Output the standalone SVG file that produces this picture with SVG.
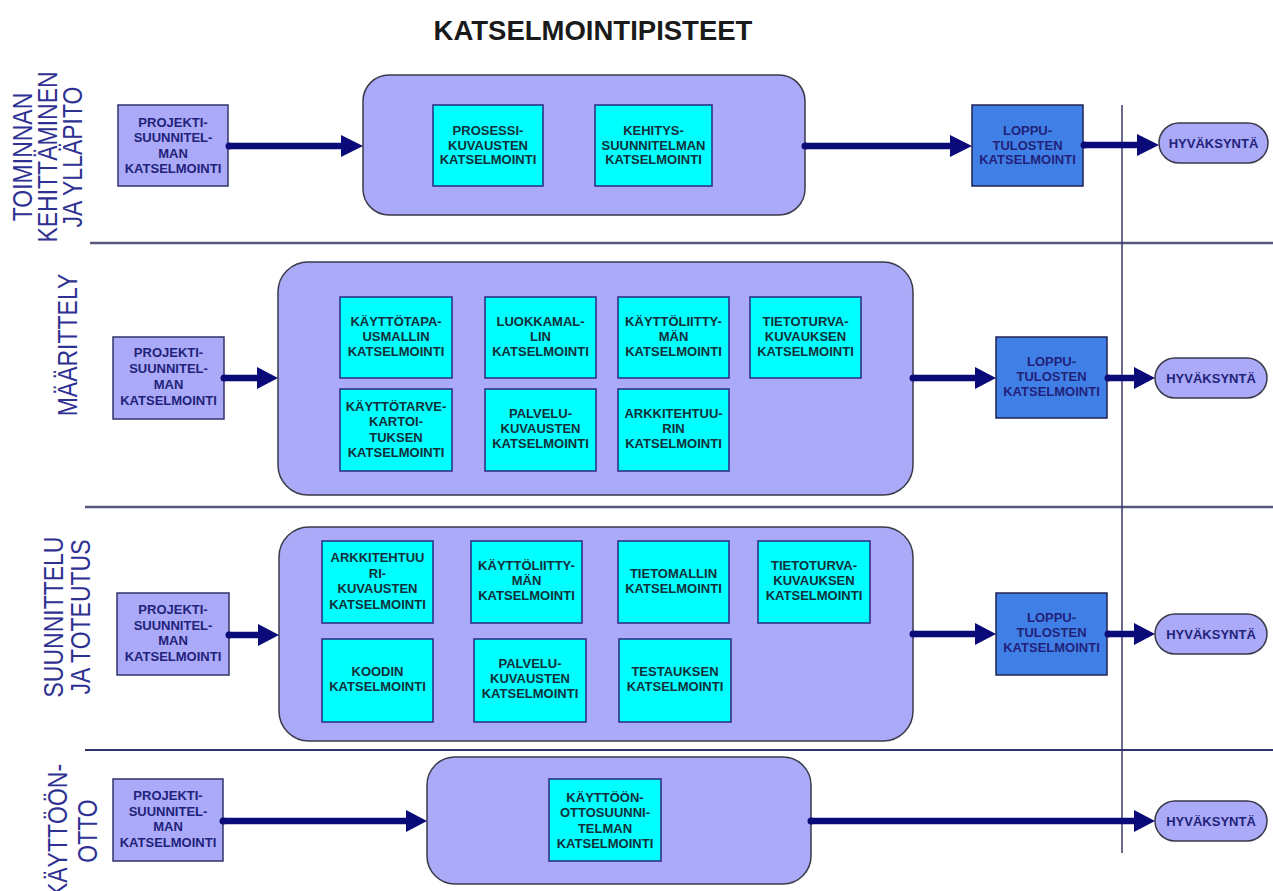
<svg xmlns="http://www.w3.org/2000/svg" width="1273" height="891" viewBox="0 0 1273 891">
<defs>
<style>
.bg{fill:#ffffff}
.title{font-family:"Liberation Sans",Arial,sans-serif;font-weight:bold;font-size:27.5px;fill:#1a1a1a;text-anchor:middle}
.lane{font-family:"Liberation Sans",Arial,sans-serif;font-size:23px;fill:#2e3192;text-anchor:middle}
.sep{stroke:#58587c;stroke-width:2.5;fill:none}
.sep2{stroke:#333370;stroke-width:2;fill:none}
.vline{stroke:#3a3a6e;stroke-width:1.5;fill:none}
.cont{fill:#aaaaf8;stroke:#3a3a4a;stroke-width:1.5}
.proj{fill:#aaaaf8;stroke:#33336a;stroke-width:1.5}
.cyan{fill:#00ffff;stroke:#2a2a80;stroke-width:1.5}
.loppu{fill:#4080e6;stroke:#222250;stroke-width:1.5}
.pill{fill:#aaaaf8;stroke:#3a3a4a;stroke-width:1.5}
.t{font-family:"Liberation Sans",Arial,sans-serif;font-weight:bold;font-size:13px;text-anchor:middle}
.tn{fill:#22227a}
.tc{fill:#10303a}
.shaft{stroke:#0a0a78;stroke-width:6.5;fill:none}
.head{fill:#0a0a78}
.dot{fill:#0a0a78}
</style>
</defs>
<rect class="bg" x="0" y="0" width="1273" height="891"/>
<text class="title" x="593" y="40">KATSELMOINTIPISTEET</text>

<g id="lanes">
<text class="lane" transform="translate(32,157) rotate(-90) scale(1,1.2)">TOIMINNAN</text>
<text class="lane" transform="translate(57,157) rotate(-90) scale(1,1.2)">KEHITTÄMINEN</text>
<text class="lane" transform="translate(82,157) rotate(-90) scale(1,1.2)">JA YLLÄPITO</text>
<text class="lane" transform="translate(77,345) rotate(-90) scale(1,1.2)">MÄÄRITTELY</text>
<text class="lane" transform="translate(63,617) rotate(-90) scale(1,1.2)">SUUNNITTELU</text>
<text class="lane" transform="translate(90,617) rotate(-90) scale(1,1.2)">JA TOTEUTUS</text>
<text class="lane" transform="translate(67,831) rotate(-90) scale(1,1.2)">KÄYTTÖÖN-</text>
<text class="lane" transform="translate(97,831) rotate(-90) scale(1,1.2)">OTTO</text>
<line class="sep" x1="90" y1="243" x2="1273" y2="243"/>
<line class="sep" x1="85" y1="507" x2="1273" y2="507"/>
<line class="sep2" x1="85" y1="750" x2="1273" y2="750"/>
<line class="vline" x1="1122" y1="105" x2="1122" y2="853"/>
</g>

<!-- Row 1 -->
<g id="r1-proj"><rect class="proj" x="118" y="105" width="110" height="81"/>
<text class="t tn" x="173" y="126.5"><tspan x="173">PROJEKTI-</tspan><tspan x="173" dy="15.5">SUUNNITEL-</tspan><tspan x="173" dy="15.5">MAN</tspan><tspan x="173" dy="15.5">KATSELMOINTI</tspan></text></g>
<g id="r1-cont"><rect class="cont" x="363" y="75" width="442" height="140" rx="26"/></g>
<g id="r1-prosessi"><rect class="cyan" x="433" y="105" width="110" height="81"/>
<text class="t tc" x="488" y="135"><tspan x="488">PROSESSI-</tspan><tspan x="488" dy="14.5">KUVAUSTEN</tspan><tspan x="488" dy="14.5">KATSELMOINTI</tspan></text></g>
<g id="r1-kehitys"><rect class="cyan" x="595" y="105" width="117" height="81"/>
<text class="t tc" x="653.5" y="135"><tspan x="653.5">KEHITYS-</tspan><tspan x="653.5" dy="14.5">SUUNNITELMAN</tspan><tspan x="653.5" dy="14.5">KATSELMOINTI</tspan></text></g>
<g id="r1-loppu"><rect class="loppu" x="972" y="105" width="111" height="81"/>
<text class="t tn" x="1027.5" y="135"><tspan x="1027.5">LOPPU-</tspan><tspan x="1027.5" dy="14.5">TULOSTEN</tspan><tspan x="1027.5" dy="14.5">KATSELMOINTI</tspan></text></g>
<g id="r1-hyv"><rect class="pill" x="1159" y="123" width="109" height="40" rx="20"/>
<text class="t tn" x="1213.5" y="147.5">HYVÄKSYNTÄ</text></g>

<!-- Row 2 -->
<g id="r2-proj"><rect class="proj" x="113" y="337" width="111" height="82"/>
<text class="t tn" x="168.5" y="357"><tspan x="168.5">PROJEKTI-</tspan><tspan x="168.5" dy="16">SUUNNITEL-</tspan><tspan x="168.5" dy="16">MAN</tspan><tspan x="168.5" dy="16">KATSELMOINTI</tspan></text></g>
<g id="r2-cont"><rect class="cont" x="278" y="262" width="635" height="233" rx="30"/></g>
<g id="r2-kayttotapa"><rect class="cyan" x="340" y="297" width="112" height="81"/>
<text class="t tc" x="396" y="326"><tspan x="396">KÄYTTÖTAPA-</tspan><tspan x="396" dy="15">USMALLIN</tspan><tspan x="396" dy="15">KATSELMOINTI</tspan></text></g>
<g id="r2-luokka"><rect class="cyan" x="485" y="297" width="111" height="81"/>
<text class="t tc" x="540.5" y="326"><tspan x="540.5">LUOKKAMAL-</tspan><tspan x="540.5" dy="15">LIN</tspan><tspan x="540.5" dy="15">KATSELMOINTI</tspan></text></g>
<g id="r2-kayttoliittyma"><rect class="cyan" x="618" y="297" width="111" height="81"/>
<text class="t tc" x="673.5" y="326"><tspan x="673.5">KÄYTTÖLIITTY-</tspan><tspan x="673.5" dy="15">MÄN</tspan><tspan x="673.5" dy="15">KATSELMOINTI</tspan></text></g>
<g id="r2-tietoturva"><rect class="cyan" x="750" y="297" width="111" height="81"/>
<text class="t tc" x="805.5" y="326"><tspan x="805.5">TIETOTURVA-</tspan><tspan x="805.5" dy="15">KUVAUKSEN</tspan><tspan x="805.5" dy="15">KATSELMOINTI</tspan></text></g>
<g id="r2-kayttotarve"><rect class="cyan" x="340" y="389" width="112" height="82"/>
<text class="t tc" x="396" y="411"><tspan x="396">KÄYTTÖTARVE-</tspan><tspan x="396" dy="15.3">KARTOI-</tspan><tspan x="396" dy="15.3">TUKSEN</tspan><tspan x="396" dy="15.3">KATSELMOINTI</tspan></text></g>
<g id="r2-palvelu"><rect class="cyan" x="485" y="389" width="111" height="82"/>
<text class="t tc" x="540.5" y="418"><tspan x="540.5">PALVELU-</tspan><tspan x="540.5" dy="15">KUVAUSTEN</tspan><tspan x="540.5" dy="15">KATSELMOINTI</tspan></text></g>
<g id="r2-arkkitehtuuri"><rect class="cyan" x="618" y="389" width="111" height="82"/>
<text class="t tc" x="673.5" y="418"><tspan x="673.5">ARKKITEHTUU-</tspan><tspan x="673.5" dy="15">RIN</tspan><tspan x="673.5" dy="15">KATSELMOINTI</tspan></text></g>
<g id="r2-loppu"><rect class="loppu" x="996" y="337" width="111" height="81"/>
<text class="t tn" x="1051.5" y="366"><tspan x="1051.5">LOPPU-</tspan><tspan x="1051.5" dy="15">TULOSTEN</tspan><tspan x="1051.5" dy="15">KATSELMOINTI</tspan></text></g>
<g id="r2-hyv"><rect class="pill" x="1155" y="358" width="112" height="40" rx="20"/>
<text class="t tn" x="1211" y="382.5">HYVÄKSYNTÄ</text></g>

<!-- Row 3 -->
<g id="r3-proj"><rect class="proj" x="117" y="593" width="112" height="82"/>
<text class="t tn" x="173" y="614"><tspan x="173">PROJEKTI-</tspan><tspan x="173" dy="15.5">SUUNNITEL-</tspan><tspan x="173" dy="15.5">MAN</tspan><tspan x="173" dy="15.5">KATSELMOINTI</tspan></text></g>
<g id="r3-cont"><rect class="cont" x="279" y="527" width="634" height="214" rx="30"/></g>
<g id="r3-arkkitehtuuri"><rect class="cyan" x="322" y="541" width="111" height="82"/>
<text class="t tc" x="377.5" y="562"><tspan x="377.5">ARKKITEHTUU</tspan><tspan x="377.5" dy="15.5">RI-</tspan><tspan x="377.5" dy="15.5">KUVAUSTEN</tspan><tspan x="377.5" dy="15.5">KATSELMOINTI</tspan></text></g>
<g id="r3-kayttoliittyma"><rect class="cyan" x="471" y="541" width="111" height="82"/>
<text class="t tc" x="526.5" y="570"><tspan x="526.5">KÄYTTÖLIITTY-</tspan><tspan x="526.5" dy="15">MÄN</tspan><tspan x="526.5" dy="15">KATSELMOINTI</tspan></text></g>
<g id="r3-tietomalli"><rect class="cyan" x="618" y="541" width="111" height="82"/>
<text class="t tc" x="673.5" y="578"><tspan x="673.5">TIETOMALLIN</tspan><tspan x="673.5" dy="15">KATSELMOINTI</tspan></text></g>
<g id="r3-tietoturva"><rect class="cyan" x="758" y="541" width="112" height="82"/>
<text class="t tc" x="814" y="570"><tspan x="814">TIETOTURVA-</tspan><tspan x="814" dy="15">KUVAUKSEN</tspan><tspan x="814" dy="15">KATSELMOINTI</tspan></text></g>
<g id="r3-koodi"><rect class="cyan" x="322" y="639" width="111" height="83"/>
<text class="t tc" x="377.5" y="676"><tspan x="377.5">KOODIN</tspan><tspan x="377.5" dy="15">KATSELMOINTI</tspan></text></g>
<g id="r3-palvelu"><rect class="cyan" x="474" y="639" width="112" height="83"/>
<text class="t tc" x="530" y="668"><tspan x="530">PALVELU-</tspan><tspan x="530" dy="15">KUVAUSTEN</tspan><tspan x="530" dy="15">KATSELMOINTI</tspan></text></g>
<g id="r3-testaus"><rect class="cyan" x="619" y="639" width="112" height="83"/>
<text class="t tc" x="675" y="676"><tspan x="675">TESTAUKSEN</tspan><tspan x="675" dy="15">KATSELMOINTI</tspan></text></g>
<g id="r3-loppu"><rect class="loppu" x="996" y="593" width="111" height="82"/>
<text class="t tn" x="1051.5" y="622"><tspan x="1051.5">LOPPU-</tspan><tspan x="1051.5" dy="15">TULOSTEN</tspan><tspan x="1051.5" dy="15">KATSELMOINTI</tspan></text></g>
<g id="r3-hyv"><rect class="pill" x="1155" y="614" width="112" height="40" rx="20"/>
<text class="t tn" x="1211" y="638.5">HYVÄKSYNTÄ</text></g>

<!-- Row 4 -->
<g id="r4-proj"><rect class="proj" x="113" y="779" width="110" height="82"/>
<text class="t tn" x="168" y="800"><tspan x="168">PROJEKTI-</tspan><tspan x="168" dy="15.5">SUUNNITEL-</tspan><tspan x="168" dy="15.5">MAN</tspan><tspan x="168" dy="15.5">KATSELMOINTI</tspan></text></g>
<g id="r4-cont"><rect class="cont" x="427" y="757" width="384" height="127" rx="28"/></g>
<g id="r4-kayttoonotto"><rect class="cyan" x="549" y="779" width="112" height="82"/>
<text class="t tc" x="605" y="802"><tspan x="605">KÄYTTÖÖN-</tspan><tspan x="605" dy="15.3">OTTOSUUNNI-</tspan><tspan x="605" dy="15.3">TELMAN</tspan><tspan x="605" dy="15.3">KATSELMOINTI</tspan></text></g>
<g id="r4-hyv"><rect class="pill" x="1155" y="801" width="112" height="40" rx="20"/>
<text class="t tn" x="1211" y="825.5">HYVÄKSYNTÄ</text></g>

<g id="connectors">
<!-- row 1 -->
<circle class="dot" cx="229" cy="146" r="3.5"/><line class="shaft" x1="229" y1="146" x2="344" y2="146"/><polygon class="head" points="341,135 363,146 341,157"/>
<circle class="dot" cx="805" cy="146" r="3.5"/><line class="shaft" x1="805" y1="146" x2="953" y2="146"/><polygon class="head" points="950,135 972,146 950,157"/>
<circle class="dot" cx="1084" cy="145" r="3.5"/><line class="shaft" x1="1084" y1="145" x2="1140" y2="145"/><polygon class="head" points="1137,134 1159,145 1137,156"/>
<!-- row 2 -->
<circle class="dot" cx="224" cy="378" r="3.5"/><line class="shaft" x1="224" y1="378" x2="259" y2="378"/><polygon class="head" points="257,367 278,378 257,389"/>
<circle class="dot" cx="913" cy="378" r="3.5"/><line class="shaft" x1="913" y1="378" x2="977" y2="378"/><polygon class="head" points="975,367 996,378 975,389"/>
<circle class="dot" cx="1108" cy="378" r="3.5"/><line class="shaft" x1="1108" y1="378" x2="1136" y2="378"/><polygon class="head" points="1134,367 1155,378 1134,389"/>
<!-- row 3 -->
<circle class="dot" cx="229" cy="635" r="3.5"/><line class="shaft" x1="229" y1="635" x2="260" y2="635"/><polygon class="head" points="258,624 279,635 258,646"/>
<circle class="dot" cx="913" cy="634" r="3.5"/><line class="shaft" x1="913" y1="634" x2="977" y2="634"/><polygon class="head" points="975,623 996,634 975,645"/>
<circle class="dot" cx="1108" cy="634" r="3.5"/><line class="shaft" x1="1108" y1="634" x2="1136" y2="634"/><polygon class="head" points="1134,623 1155,634 1134,645"/>
<!-- row 4 -->
<circle class="dot" cx="223" cy="821" r="3.5"/><line class="shaft" x1="223" y1="821" x2="408" y2="821"/><polygon class="head" points="406,810 427,821 406,832"/>
<circle class="dot" cx="811" cy="821" r="3.5"/><line class="shaft" x1="811" y1="821" x2="1136" y2="821"/><polygon class="head" points="1134,810 1155,821 1134,832"/>
</g>
</svg>
